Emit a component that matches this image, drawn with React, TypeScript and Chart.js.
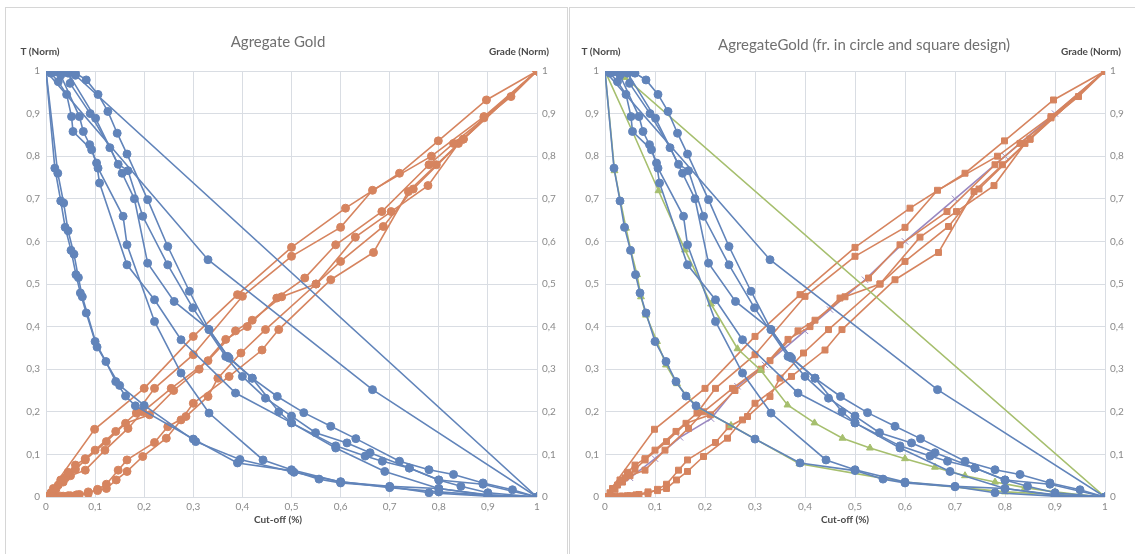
import React, { useEffect, useRef } from 'react';
import { Chart, registerables } from 'chart.js';
Chart.register(...registerables);

type P = [number, number];

// ---- Data ----
const blueSteepA: P[] = [[0,1],[0.018,0.772],[0.03,0.695],[0.039,0.633],[0.051,0.579],[0.061,0.522],[0.07,0.479],[0.082,0.432],[0.1,0.365],[0.122,0.318],[0.142,0.271],[0.162,0.237],[0.182,0.214],[0.3,0.136],[0.39,0.08],[0.5,0.062],[0.556,0.042],[0.6,0.033],[0.7,0.024],[0.78,0.01],[0.9,0.002],[1,0]];
const blueSteepB: P[] = [[0,1],[0.024,0.76],[0.036,0.69],[0.045,0.625],[0.057,0.57],[0.066,0.515],[0.074,0.47],[0.104,0.352],[0.15,0.262],[0.2,0.215],[0.305,0.13],[0.395,0.088],[0.505,0.058],[0.6,0.036],[0.7,0.022],[0.8,0.012],[0.9,0.004],[1,0]];
const blueMidA: P[] = [[0,1],[0.01,0.995],[0.025,0.975],[0.042,0.945],[0.052,0.893],[0.055,0.858],[0.093,0.815],[0.106,0.772],[0.157,0.659],[0.165,0.592],[0.221,0.412],[0.275,0.291],[0.332,0.197],[0.442,0.087],[0.5,0.064],[0.6,0.035],[0.7,0.025],[0.8,0.02],[0.9,0.005],[1,0]];
const blueMidB: P[] = [[0,1],[0.015,0.998],[0.03,0.99],[0.068,0.893],[0.076,0.858],[0.089,0.827],[0.103,0.784],[0.109,0.737],[0.165,0.545],[0.221,0.463],[0.275,0.369],[0.386,0.244],[0.5,0.174],[0.59,0.115],[0.69,0.06],[0.8,0.02],[0.9,0.004],[1,0]];
const blueSlowA: P[] = [[0,1],[0.012,1],[0.025,0.999],[0.04,0.998],[0.06,0.995],[0.082,0.979],[0.106,0.945],[0.126,0.905],[0.145,0.854],[0.165,0.805],[0.207,0.698],[0.248,0.588],[0.292,0.483],[0.332,0.393],[0.373,0.326],[0.42,0.279],[0.471,0.236],[0.525,0.198],[0.58,0.166],[0.631,0.137],[0.72,0.084],[0.78,0.064],[0.83,0.053],[0.89,0.033],[0.95,0.017],[1,0]];
const blueSlowB: P[] = [[0,1],[0.02,0.999],[0.035,0.998],[0.045,0.995],[0.101,0.889],[0.147,0.781],[0.167,0.766],[0.197,0.659],[0.248,0.545],[0.299,0.444],[0.366,0.33],[0.4,0.283],[0.447,0.232],[0.5,0.19],[0.549,0.151],[0.613,0.127],[0.66,0.104],[0.74,0.068],[0.8,0.04],[0.89,0.03],[1,0]];
const blueSlowC: P[] = [[0,1],[0.018,0.998],[0.05,0.997],[0.049,0.971],[0.09,0.9],[0.13,0.82],[0.155,0.76],[0.18,0.7],[0.207,0.549],[0.261,0.459],[0.332,0.393],[0.37,0.33],[0.42,0.279],[0.474,0.2],[0.5,0.174],[0.59,0.12],[0.65,0.096],[0.685,0.084],[0.74,0.068],[0.8,0.04],[0.845,0.025],[0.9,0.01],[1,0]];
const blueLong: P[] = [[0,1],[0.33,0.557],[0.665,0.252],[1,0]];
const blueStraight: P[] = [[0,1],[0.06,0.99],[1,0]];

const greenSteep: P[] = [[0,1],[0.019,0.766],[0.031,0.694],[0.042,0.631],[0.052,0.577],[0.064,0.522],[0.072,0.47],[0.082,0.427],[0.104,0.365],[0.122,0.31],[0.144,0.266],[0.164,0.237],[0.185,0.211],[0.252,0.168],[0.389,0.078],[0.6,0.035],[0.8,0.012],[1,0]];
const greenMid: P[] = [[0,1],[0.055,0.858],[0.107,0.719],[0.16,0.58],[0.212,0.453],[0.265,0.348],[0.312,0.297],[0.365,0.216],[0.419,0.174],[0.475,0.138],[0.53,0.115],[0.6,0.09],[0.66,0.07],[0.72,0.05],[0.78,0.035],[0.84,0.022],[0.9,0.012],[0.95,0.005],[1,0]];
const greenStraight: P[] = [[0,1],[0.04,0.985],[1,0]];

const orangeA: P[] = [[0,0],[0.099,0.159],[0.2,0.255],[0.3,0.377],[0.39,0.475],[0.5,0.586],[0.61,0.678],[0.72,0.76],[0.799,0.836],[0.897,0.932],[1,1]];
const orangeB: P[] = [[0,0],[0.015,0.02],[0.03,0.04],[0.045,0.058],[0.06,0.075],[0.08,0.09],[0.1,0.11],[0.142,0.154],[0.184,0.197],[0.221,0.255],[0.3,0.334],[0.4,0.471],[0.5,0.565],[0.6,0.633],[0.665,0.72],[0.785,0.8],[0.892,0.893],[1,1]];
const orangeC: P[] = [[0,0],[0.01,0.01],[0.025,0.028],[0.04,0.045],[0.06,0.065],[0.08,0.087],[0.123,0.13],[0.162,0.173],[0.211,0.193],[0.26,0.25],[0.312,0.3],[0.366,0.37],[0.41,0.4],[0.47,0.467],[0.527,0.514],[0.59,0.592],[0.684,0.67],[0.78,0.78],[0.83,0.83],[0.947,0.94],[1,1]];
const orangeD: P[] = [[0,0],[0.02,0.018],[0.035,0.035],[0.05,0.05],[0.08,0.063],[0.12,0.11],[0.167,0.161],[0.197,0.2],[0.255,0.255],[0.33,0.32],[0.386,0.39],[0.42,0.415],[0.48,0.47],[0.55,0.5],[0.6,0.553],[0.687,0.635],[0.748,0.723],[0.85,0.84],[1,1]];
const orangeE: P[] = [[0,0],[0.015,0.001],[0.03,0.002],[0.045,0.003],[0.062,0.005],[0.086,0.008],[0.105,0.018],[0.123,0.03],[0.147,0.063],[0.165,0.087],[0.221,0.128],[0.248,0.165],[0.285,0.189],[0.33,0.236],[0.35,0.279],[0.397,0.338],[0.447,0.393],[0.55,0.5],[0.63,0.61],[0.703,0.67],[0.778,0.731],[0.84,0.83],[0.892,0.89],[1,1]];
const orangeF: P[] = [[0,0],[0.02,0.001],[0.035,0.002],[0.05,0.003],[0.068,0.006],[0.086,0.012],[0.105,0.015],[0.123,0.02],[0.143,0.04],[0.165,0.06],[0.197,0.095],[0.245,0.138],[0.275,0.181],[0.3,0.22],[0.373,0.283],[0.44,0.345],[0.474,0.393],[0.58,0.51],[0.667,0.574],[0.738,0.717],[0.795,0.78],[0.85,0.84],[1,1]];

const purpleDiag: P[] = [[0,0],[0.05,0.045],[0.1,0.09],[0.15,0.14],[0.212,0.184],[0.265,0.26],[0.32,0.31],[0.4,0.39],[0.45,0.44],[0.52,0.51],[0.6,0.6],[0.7,0.7],[0.8,0.8],[0.9,0.9],[1,1]];

const leftTitle = 'Agregate Gold';
const rightTitle = 'AgregateGold (fr. in circle and square design)';
const yLeftTitle = 'T (Norm)';
const yRightTitle = 'Grade (Norm)';
const xTitle = 'Cut-off (%)';

const BLUE = '#6184ba';
const ORANGE = '#d6845f';
const GREEN = '#a6bf6e';
const PURPLE = '#9a88c0';
const GRID = '#d9dde3';
const FONT = 'Lato, "Open Sans", sans-serif';

function fmt(v: number): string {
  if (Math.abs(v) < 1e-9) return '0';
  if (Math.abs(v - 1) < 1e-9) return '1';
  return v.toFixed(1).replace('.', ',');
}

function ds(data: P[], color: string, style: string, yAxisID: string, radius = 4) {
  return {
    data: data.map(([x, y]) => ({ x, y })),
    showLine: true,
    borderColor: color,
    backgroundColor: color,
    borderWidth: 1.6,
    pointRadius: radius,
    pointStyle: style,
    pointBorderWidth: 1,
    pointBorderColor: color,
    pointBackgroundColor: color,
    yAxisID,
    tension: 0,
  };
}

const textPlugin = {
  id: 'texts',
  afterDraw(chart: any, _args: any, o: any) {
    const ctx = chart.ctx;
    ctx.save();
    ctx.textAlign = 'center';
    ctx.textBaseline = 'middle';
    ctx.fillStyle = '#707070';
    ctx.font = `15px ${FONT}`;
    ctx.fillText(o.title, o.titleX, o.titleY);
    ctx.fillStyle = '#4a4a4a';
    ctx.font = `bold 10px ${FONT}`;
    ctx.fillText(yLeftTitle, o.tX, o.axY);
    ctx.fillText(yRightTitle, o.gX, o.axY);
    ctx.fillText(xTitle, o.cX, o.cY);
    ctx.restore();
  },
};

interface PanelProps {
  left: number;
  width: number;
  datasets: any[];
  leftAxisW: number;
  rightAxisW: number;
  texts: any;
}

function Panel({ left, width, datasets, leftAxisW, rightAxisW, texts }: PanelProps) {
  const ref = useRef<HTMLCanvasElement | null>(null);
  useEffect(() => {
    if (!ref.current) return;
    const tickFont = { family: FONT, size: 10 };
    const chart = new Chart(ref.current, {
      type: 'scatter',
      data: { datasets },
      plugins: [textPlugin],
      options: {
        animation: false,
        responsive: false,
        layout: { padding: { top: 63, left: 0, right: 0, bottom: 0 }, autoPadding: false },
        plugins: {
          legend: { display: false },
          tooltip: { enabled: false },
          title: { display: false },
          texts,
        } as any,
        scales: {
          x: {
            type: 'linear', min: 0, max: 1,
            ticks: { stepSize: 0.1, callback: (v: any) => fmt(Number(v)), color: '#8a8a8a', font: tickFont, padding: 4, maxRotation: 0 },
            grid: { color: GRID, drawTicks: false, lineWidth: 1 },
            border: { display: false },
            afterFit: (s: any) => { s.height = 57; },
          },
          y: {
            type: 'linear', position: 'left', min: 0, max: 1,
            ticks: { stepSize: 0.1, callback: (v: any) => fmt(Number(v)), color: '#8a8a8a', font: tickFont, padding: 6 },
            grid: { color: GRID, drawTicks: false, lineWidth: 1 },
            border: { display: false },
            afterFit: (s: any) => { s.width = leftAxisW; },
          },
          y1: {
            type: 'linear', position: 'right', min: 0, max: 1,
            ticks: { stepSize: 0.1, callback: (v: any) => fmt(Number(v)), color: '#8a8a8a', font: tickFont, padding: 5 },
            grid: { display: false, drawTicks: false },
            border: { display: false },
            afterFit: (s: any) => { s.width = rightAxisW; },
          },
        },
      } as any,
    });
    return () => chart.destroy();
  }, []);
  return (
    <canvas
      ref={ref}
      width={width}
      height={546}
      style={{ position: 'absolute', left, top: 8, width, height: 546, filter: 'blur(0.4px)' }}
    />
  );
}

export default function App() {
  const leftSets = [
    ...[blueSteepA, blueSteepB, blueMidA, blueMidB, blueSlowA, blueSlowB, blueSlowC, blueLong, blueStraight].map((d) => ds(d, BLUE, 'circle', 'y')),
    ...[orangeA, orangeB, orangeC, orangeD, orangeE, orangeF].map((d) => ds(d, ORANGE, 'circle', 'y1')),
  ];
  const rightSets = [
    ...[blueSteepA, blueMidA, blueMidB, blueSlowA, blueSlowB, blueSlowC, blueLong].map((d) => ds(d, BLUE, 'circle', 'y')),
    ...[greenSteep, greenMid, greenStraight].map((d) => ds(d, GREEN, 'triangle', 'y', 4)),
    ...[orangeA, orangeB, orangeC, orangeD, orangeE, orangeF].map((d) => ds(d, ORANGE, 'rect', 'y1', 4.2)),
    ds(purpleDiag, PURPLE, 'crossRot', 'y1', 4.5),
  ];
  return (
    <div style={{ position: 'fixed', left: 0, top: 0, width: 1135, height: 554, background: '#fff', overflow: 'hidden' }}>
      <div style={{ position: 'absolute', left: 5, top: 7, width: 561, height: 560, border: '1px solid #d6d6d6' }} />
      <div style={{ position: 'absolute', left: 569, top: 7, width: 580, height: 560, border: '1px solid #d6d6d6' }} />
      <Panel
        left={6}
        width={560}
        datasets={leftSets}
        leftAxisW={40}
        rightAxisW={29}
        texts={{ title: leftTitle, titleX: 272, titleY: 34, tX: 34, gX: 513, axY: 44, cX: 272, cY: 512 }}
      />
      <Panel
        left={569}
        width={566}
        datasets={rightSets}
        leftAxisW={36}
        rightAxisW={30}
        texts={{ title: rightTitle, titleX: 295, titleY: 37, tX: 32, gX: 522, axY: 44, cX: 276, cY: 512 }}
      />
    </div>
  );
}
